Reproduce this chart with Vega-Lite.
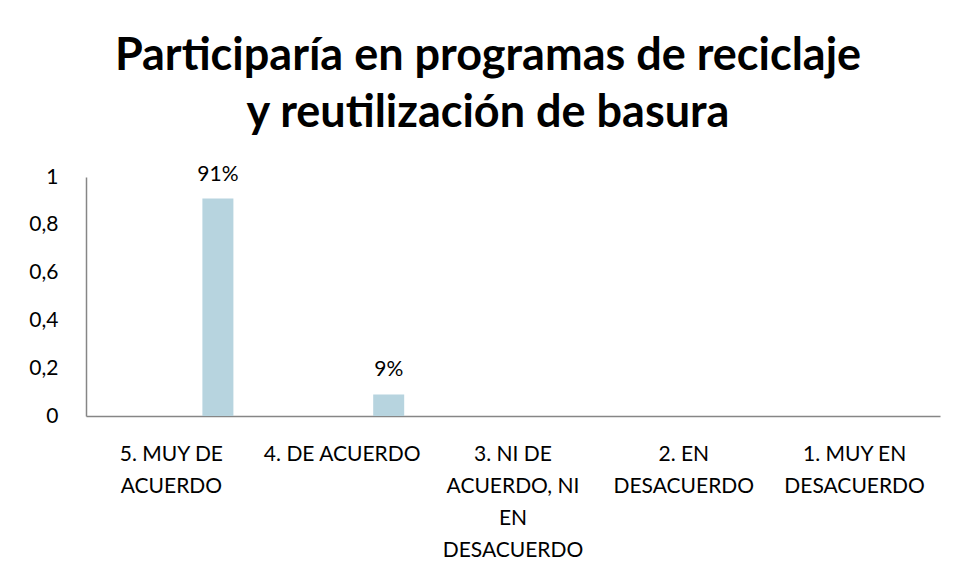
{
  "$schema": "https://vega.github.io/schema/vega-lite/v6.json",
  "width": 854,
  "height": 239,
  "autosize": {"type": "none"},
  "padding": {"left": 86, "top": 177, "right": 16, "bottom": 161},
  "background": "white",
  "title": {
    "text": ["Participaría en programas de reciclaje", "y reutilización de basura"],
    "font": "Lato",
    "fontSize": 45,
    "fontWeight": "bold",
    "color": "black",
    "lineHeight": 57,
    "anchor": "middle",
    "frame": "group",
    "baseline": "alphabetic",
    "offset": -8,
    "dx": -25
  },
  "data": {
    "values": [
      {"respuesta": "5. MUY DE ACUERDO", "serie": "S4", "proporcion": 0.91},
      {"respuesta": "4. DE ACUERDO", "serie": "S4", "proporcion": 0.09}
    ]
  },
  "encoding": {
    "x": {
      "field": "respuesta",
      "type": "nominal",
      "sort": null,
      "scale": {
        "domain": ["5. MUY DE ACUERDO", "4. DE ACUERDO", "3. NI DE ACUERDO, NI EN DESACUERDO", "2. EN DESACUERDO", "1. MUY EN DESACUERDO"],
        "paddingInner": 0,
        "paddingOuter": 0
      },
      "axis": {
        "title": null,
        "labelAngle": 0,
        "ticks": false,
        "domainColor": "#868686",
        "domainWidth": 1.5,
        "labelPadding": 27,
        "labelFont": "Lato",
        "labelFontSize": 21,
        "labelColor": "black",
        "labelLineHeight": 32,
        "labelBaseline": "top",
        "labelLimit": 0,
        "labelOverlap": false,
        "labelBound": false,
        "labelExpr": "datum.value == '5. MUY DE ACUERDO' ? ['5. MUY DE', 'ACUERDO'] : datum.value == '3. NI DE ACUERDO, NI EN DESACUERDO' ? ['3. NI DE', 'ACUERDO, NI', 'EN', 'DESACUERDO'] : datum.value == '2. EN DESACUERDO' ? ['2. EN', 'DESACUERDO'] : datum.value == '1. MUY EN DESACUERDO' ? ['1. MUY EN', 'DESACUERDO'] : datum.value"
      }
    },
    "xOffset": {
      "field": "serie",
      "type": "nominal",
      "scale": {"domain": ["S1", "S2", "S3", "S4"], "paddingInner": 0, "paddingOuter": 0.755}
    },
    "y": {
      "field": "proporcion",
      "type": "quantitative",
      "scale": {"domain": [0, 1], "nice": false},
      "axis": {
        "title": null,
        "values": [0, 0.2, 0.4, 0.6, 0.8, 1],
        "grid": false,
        "ticks": false,
        "domainColor": "#868686",
        "domainWidth": 1.5,
        "labelPadding": 28,
        "labelFont": "Lato",
        "labelFontSize": 21,
        "labelColor": "black",
        "labelExpr": "replace(format(datum.value, '.1~f'), '.', ',')"
      }
    }
  },
  "layer": [
    {"mark": {"type": "bar", "color": "#B7D4DF"}},
    {
      "mark": {"type": "text", "font": "Lato", "fontSize": 21, "color": "black", "baseline": "alphabetic", "dy": -18},
      "encoding": {"text": {"field": "proporcion", "type": "quantitative", "format": ".0%"}}
    }
  ],
  "config": {"view": {"stroke": null}}
}
